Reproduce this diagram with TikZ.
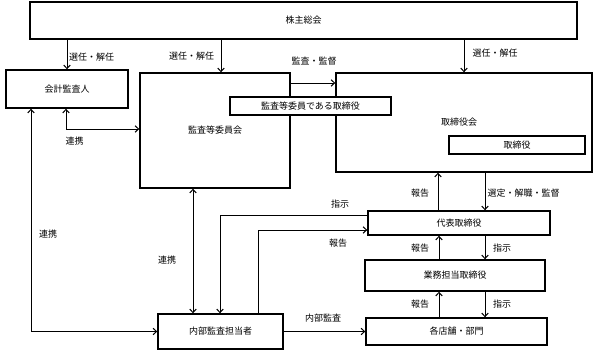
\documentclass[tikz,border=0pt]{standalone}
\usepackage{fontspec}
\setmainfont{Noto Sans CJK JP}
\usetikzlibrary{arrows.meta}
\begin{document}
\begin{tikzpicture}[x=1pt,y=-1pt,
  box/.style={draw,line width=1.4pt,fill=white,inner sep=0pt,font=\fontsize{9}{10}\selectfont},
  arr/.style={line width=1pt,-{Straight Barb[length=3.5pt,width=6.5pt,line width=1pt]}},
  darr/.style={line width=1pt,{Straight Barb[length=3.5pt,width=6.5pt,line width=1pt]}-{Straight Barb[length=3.5pt,width=6.5pt,line width=1pt]}},
  lbl/.style={inner sep=0pt,font=\fontsize{9}{10}\selectfont}]
\useasboundingbox (0,0) rectangle (599,353);
% boxes
\node[box,minimum width=547pt,minimum height=37pt] (sh) at (303.5,20.5) {株主総会};
\node[box,minimum width=122pt,minimum height=38pt] (kaikei) at (67,89) {会計監査人};
\node[box,minimum width=150pt,minimum height=115pt] (kansa) at (215,130.5) {監査等委員会};
\node[box,minimum width=256pt,minimum height=99pt] (board) at (464,122.5) {\hspace*{-10pt}取締役会};
\node[box,minimum width=161pt,minimum height=18pt] (kdir) at (310.5,106) {監査等委員である取締役};
\node[box,minimum width=136pt,minimum height=18pt] (dir) at (517,145) {取締役};
\node[box,minimum width=182pt,minimum height=24pt] (rep) at (459,223) {代表取締役};
\node[box,minimum width=180pt,minimum height=31pt] (gyomu) at (455,275.5) {業務担当取締役};
\node[box,minimum width=181pt,minimum height=27pt] (shop) at (456.5,331.5) {各店舗・部門};
\node[box,minimum width=125pt,minimum height=35pt] (naibu) at (220.5,331.5) {内部監査担当者};
% connectors
\draw[arr] (sh.south -| kaikei.north) -- (kaikei.north);
\draw[arr] (221,0 |- sh.south) -- (221,0 |- kansa.north);
\draw[arr] (sh.south -| board.north) -- (board.north);
\draw[arr] (kansa.east |- 0,83) -- (board.west |- 0,83);
\draw[darr] (66,0 |- kaikei.south) -- (66,129) -- (kansa.west |- 0,129);
\draw[darr] (31,0 |- kaikei.south) -- (31,331.5) -- (naibu.west);
\draw[darr] (193,0 |- kansa.south) -- (193,0 |- naibu.north);
\draw[arr] (rep.west |- 0,215) -- (220,215) -- (220,0 |- naibu.north);
\draw[arr] (258,0 |- naibu.north) -- (258,230) -- (rep.west |- 0,230);
\draw[arr] (438,0 |- rep.north) -- (438,0 |- board.south);
\draw[arr] (485,0 |- board.south) -- (485,0 |- rep.north);
\draw[arr] (439,0 |- gyomu.north) -- (439,0 |- rep.south);
\draw[arr] (485,0 |- rep.south) -- (485,0 |- gyomu.north);
\draw[arr] (439,0 |- shop.north) -- (439,0 |- gyomu.south);
\draw[arr] (485,0 |- gyomu.south) -- (485,0 |- shop.north);
\draw[arr] (naibu.east) -- (shop.west);
% labels
\node[lbl] (l1) at (91.5,57) {選任・解任};
\node[lbl] (l2) at (191.5,56) {選任・解任};
\node[lbl] (l3) at (495,53) {選任・解任};
\node[lbl] (l4) at (314,61) {監査・監督};
\node[lbl] (l5) at (74.5,141) {連携};
\node[lbl] (l6) at (48,234) {連携};
\node[lbl] (l7) at (167,260) {連携};
\node[lbl] (l8) at (340,204) {指示};
\node[lbl] (l9) at (338,243) {報告};
\node[lbl] (l10) at (420,193) {報告};
\node[lbl] (l11) at (523.5,193) {選定・解職・監督};
\node[lbl] (l12) at (420,248) {報告};
\node[lbl] (l13) at (502,248) {指示};
\node[lbl] (l14) at (420,304) {報告};
\node[lbl] (l15) at (502,304) {指示};
\node[lbl] (l16) at (323,318) {内部監査};
\end{tikzpicture}
\end{document}
